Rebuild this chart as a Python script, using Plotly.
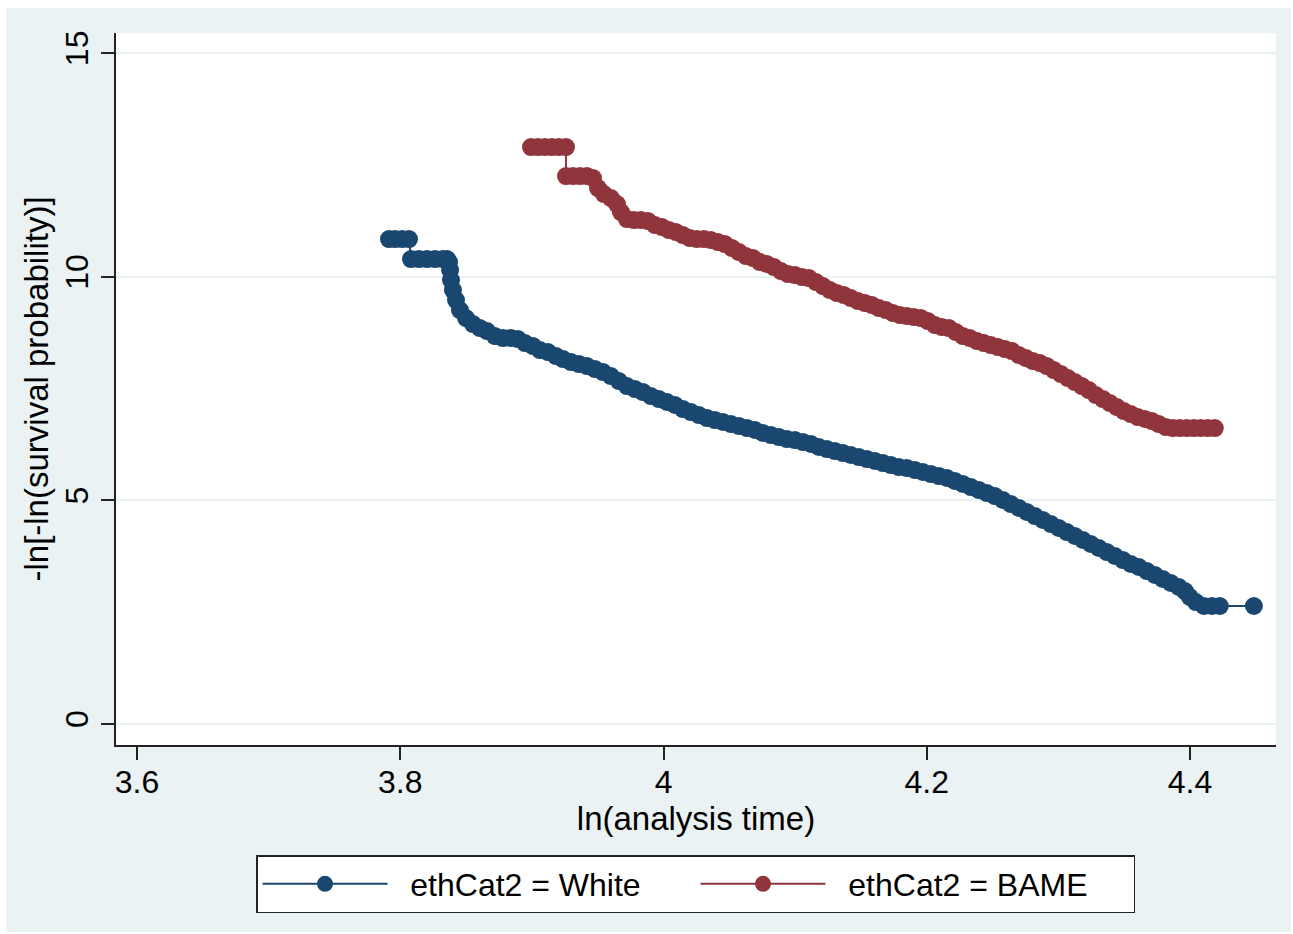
import plotly.graph_objects as go

# ln(analysis time) and -ln[-ln(S)]
white_x = [3.7914, 3.7960, 3.8013, 3.8066, 3.8081, 3.8142, 3.8203, 3.8264, 3.8324, 3.8355,
           3.8370, 3.8378, 3.8385, 3.8400, 3.8423, 3.8453, 3.8499, 3.8552, 3.8605, 3.8659,
           3.8719, 3.8780, 3.8841, 3.8894, 3.8947, 3.9008, 3.9061, 3.9122, 3.9183, 3.9236,
           3.9297, 3.9357, 3.9418, 3.9479, 3.9540, 3.9600, 3.9661, 3.9722, 3.9783, 3.9844,
           3.9904, 3.9965, 4.0026, 4.0087, 4.0147, 4.0208, 4.0269, 4.0330, 4.0390, 4.0451,
           4.0512, 4.0573, 4.0634, 4.0694, 4.0755, 4.0816, 4.0877, 4.0937, 4.0998, 4.1059,
           4.1120, 4.1180, 4.1241, 4.1302, 4.1363, 4.1423, 4.1484, 4.1545, 4.1606, 4.1667,
           4.1727, 4.1788, 4.1849, 4.1910, 4.1970, 4.2031, 4.2092, 4.2153, 4.2213, 4.2274,
           4.2335, 4.2396, 4.2457, 4.2517, 4.2578, 4.2639, 4.2700, 4.2760, 4.2821, 4.2882,
           4.2943, 4.3003, 4.3064, 4.3125, 4.3186, 4.3246, 4.3307, 4.3368, 4.3429, 4.3490,
           4.3550, 4.3611, 4.3672, 4.3733, 4.3793, 4.3854, 4.3915, 4.3961, 4.3998, 4.4044,
           4.4105, 4.4166, 4.4226, 4.4485]
white_y = [10.843, 10.843, 10.843, 10.843, 10.396, 10.396, 10.396, 10.396, 10.396, 10.396,
           10.329, 10.150, 9.926, 9.703, 9.479, 9.255, 9.077, 8.942, 8.853, 8.786,
           8.674, 8.629, 8.629, 8.607, 8.518, 8.451, 8.361, 8.316, 8.227, 8.160,
           8.093, 8.048, 8.003, 7.936, 7.869, 7.780, 7.668, 7.556, 7.489, 7.422,
           7.333, 7.266, 7.199, 7.132, 7.042, 6.975, 6.908, 6.841, 6.796, 6.752,
           6.707, 6.662, 6.617, 6.573, 6.506, 6.461, 6.416, 6.371, 6.349, 6.304,
           6.260, 6.193, 6.148, 6.103, 6.058, 6.014, 5.969, 5.924, 5.880, 5.835,
           5.790, 5.745, 5.723, 5.678, 5.634, 5.589, 5.544, 5.500, 5.433, 5.366,
           5.298, 5.231, 5.164, 5.097, 5.008, 4.918, 4.829, 4.740, 4.650, 4.561,
           4.471, 4.382, 4.292, 4.203, 4.114, 4.024, 3.935, 3.845, 3.756, 3.666,
           3.577, 3.510, 3.420, 3.331, 3.242, 3.152, 3.063, 2.973, 2.839, 2.727,
           2.638, 2.638, 2.638, 2.638]

bame_x = [3.8993, 3.9046, 3.9099, 3.9152, 3.9205, 3.9259, 3.9259, 3.9312, 3.9365, 3.9418,
          3.9464, 3.9502, 3.9547, 3.9600, 3.9646, 3.9676, 3.9722, 3.9775, 3.9828, 3.9882,
          3.9935, 3.9988, 4.0041, 4.0094, 4.0147, 4.0200, 4.0254, 4.0307, 4.0360, 4.0413,
          4.0466, 4.0520, 4.0573, 4.0626, 4.0679, 4.0732, 4.0785, 4.0839, 4.0892, 4.0945,
          4.0998, 4.1051, 4.1104, 4.1158, 4.1211, 4.1264, 4.1317, 4.1370, 4.1423, 4.1477,
          4.1530, 4.1583, 4.1636, 4.1689, 4.1743, 4.1796, 4.1849, 4.1902, 4.1955, 4.2008,
          4.2062, 4.2115, 4.2168, 4.2221, 4.2274, 4.2327, 4.2381, 4.2434, 4.2487, 4.2540,
          4.2593, 4.2646, 4.2700, 4.2753, 4.2806, 4.2859, 4.2912, 4.2965, 4.3019, 4.3072,
          4.3125, 4.3178, 4.3231, 4.3284, 4.3338, 4.3391, 4.3444, 4.3497, 4.3550, 4.3603,
          4.3657, 4.3710, 4.3763, 4.3816, 4.3869, 4.3922, 4.3976, 4.4029, 4.4082, 4.4135,
          4.4188]
bame_y = [12.899, 12.899, 12.899, 12.899, 12.899, 12.899, 12.251, 12.251, 12.251, 12.251,
          12.206, 11.983, 11.849, 11.759, 11.625, 11.446, 11.290, 11.267, 11.267, 11.245,
          11.156, 11.111, 11.044, 10.999, 10.932, 10.865, 10.843, 10.843, 10.820, 10.776,
          10.731, 10.641, 10.552, 10.463, 10.418, 10.328, 10.284, 10.217, 10.127, 10.060,
          10.038, 9.993, 9.971, 9.881, 9.792, 9.703, 9.635, 9.591, 9.524, 9.457,
          9.412, 9.367, 9.300, 9.255, 9.188, 9.144, 9.121, 9.099, 9.077, 9.009,
          8.920, 8.875, 8.853, 8.764, 8.674, 8.629, 8.562, 8.518, 8.473, 8.428,
          8.384, 8.339, 8.249, 8.182, 8.115, 8.071, 8.003, 7.914, 7.825, 7.735,
          7.646, 7.556, 7.467, 7.355, 7.266, 7.176, 7.087, 6.997, 6.930, 6.863,
          6.819, 6.774, 6.707, 6.640, 6.617, 6.617, 6.617, 6.617, 6.617, 6.617,
          6.617]

x_ticks = [3.6, 3.8, 4.0, 4.2, 4.4]
x_tick_labels = ["3.6", "3.8", "4", "4.2", "4.4"]
y_ticks = [0, 5, 10, 15]
y_tick_labels = ["0", "5", "10", "15"]
series_names = ["ethCat2 = White", "ethCat2 = BAME"]

NAVY = "#1A476F"
MAROON = "#90353B"
BG = "#EAF2F3"
FONT = "Liberation Sans, Arial, Helvetica, sans-serif"
PAD = "\u00a0\u00a0"

fig = go.Figure()
fig.add_trace(go.Scatter(x=white_x, y=white_y, mode="lines+markers", name=PAD + series_names[0],
                         line=dict(color=NAVY, width=2),
                         marker=dict(color=NAVY, size=18, line=dict(width=0))))
fig.add_trace(go.Scatter(x=bame_x, y=bame_y, mode="lines+markers", name=PAD + series_names[1],
                         line=dict(color=MAROON, width=2),
                         marker=dict(color=MAROON, size=18, line=dict(width=0))))

L, R, T, B = 116, 17, 33, 189
W, H = 1293, 934
pw, ph = W - L - R, H - T - B

def px_x(p):
    return (p - L) / pw

def px_y(p):
    return (H - B - p) / ph

fig.update_layout(
    width=W, height=H,
    margin=dict(l=L, r=R, t=T, b=B, autoexpand=False),
    paper_bgcolor="white",
    plot_bgcolor="white",
    font=dict(family=FONT, size=32, color="black"),
    showlegend=True,
    legend=dict(orientation="h", x=px_x(256), xanchor="left", y=px_y(855), yanchor="top",
                bgcolor="white", bordercolor="#222", borderwidth=1.5,
                font=dict(family=FONT, size=32, color="black"),
                itemwidth=125, entrywidth=298, entrywidthmode="pixels",
                itemclick=False),
    shapes=[
        dict(type="rect", xref="paper", yref="paper", layer="below",
             x0=px_x(6), x1=px_x(1291), y0=px_y(932), y1=px_y(8),
             fillcolor=BG, line=dict(width=0)),
        dict(type="rect", xref="paper", yref="paper", layer="below",
             x0=0, x1=1, y0=0, y1=1, fillcolor="white", line=dict(width=0)),
    ],
    xaxis=dict(range=[3.584, 4.4653], tickvals=x_ticks, ticktext=x_tick_labels,
               ticks="outside", ticklen=13, tickwidth=1.5, tickcolor="#222",
               ticklabelstandoff=-5,
               showline=True, linecolor="#222", linewidth=1.5,
               showgrid=False, zeroline=False,
               tickfont=dict(size=32),
               title=dict(text="ln(analysis time)", font=dict(size=33), standoff=6)),
    yaxis=dict(range=[-0.47, 15.45], tickvals=y_ticks, ticktext=y_tick_labels,
               ticks="outside", ticklen=13, tickwidth=1.5, tickcolor="#222",
               tickangle=-90,
               showline=True, linecolor="#222", linewidth=1.5,
               showgrid=True, gridcolor=BG, gridwidth=2, zeroline=False,
               tickfont=dict(size=32),
               title=dict(text="-ln[-ln(survival probability)]", font=dict(size=33), standoff=1)),
)

fig.write_html("out.html")
